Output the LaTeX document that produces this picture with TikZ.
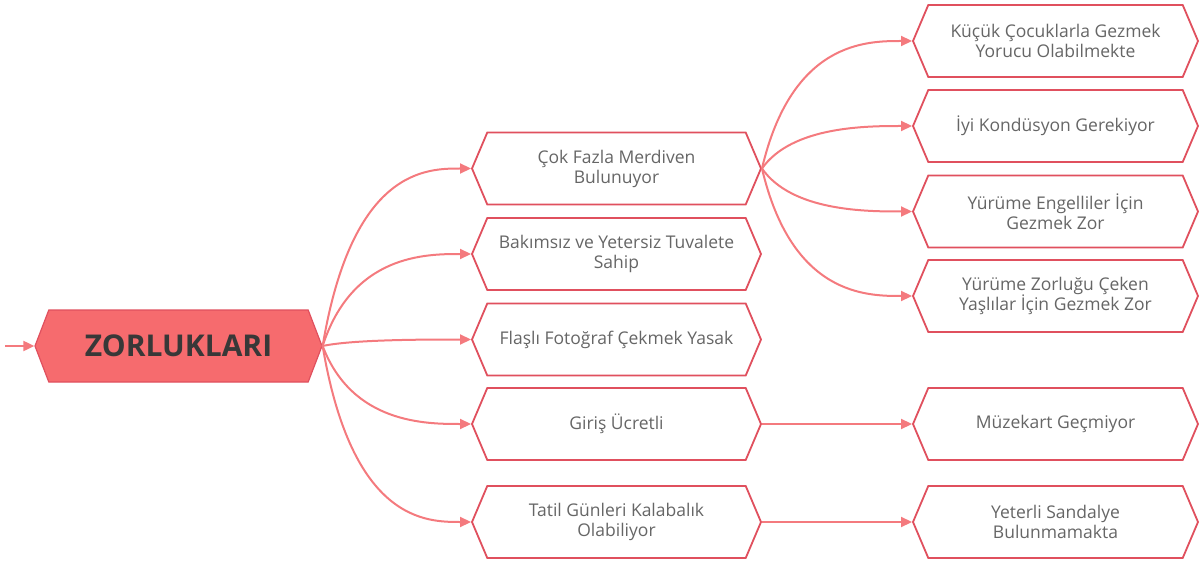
\documentclass[tikz,border=0pt]{standalone}
\usepackage{fontspec}
\setmainfont{Open Sans}
\usetikzlibrary{shapes.symbols,calc,arrows.meta}
\definecolor{linec}{HTML}{F47A7E}
\definecolor{borderc}{HTML}{E0505E}
\definecolor{rootfill}{HTML}{F66B6E}
\definecolor{txtc}{HTML}{666666}
\begin{document}
\begin{tikzpicture}[x=1pt,y=-1pt,
  hexbox/.style={signal, signal to=east and west, draw=borderc, line width=1.8pt,
    fill=white, text=txtc, font=\fontsize{17.5}{20}\selectfont, align=center,
    inner sep=0pt, minimum height=72pt},
  midbox/.style={hexbox, minimum width=289pt, signal pointer angle=134},
  rightbox/.style={hexbox, minimum width=285pt, signal pointer angle=134},
  rootbox/.style={signal, signal to=east and west, draw=borderc, line width=1.2pt,
    fill=rootfill, text=black!78, font=\bfseries\fontsize{30}{36}\selectfont,
    inner sep=0pt, minimum height=72pt, minimum width=287pt, signal pointer angle=138},
  conn/.style={draw=linec, line width=2pt, -{Triangle[length=11pt,width=10pt]}},
  curv/.style={to path={let \p1=(\tikztostart), \p2=(\tikztotarget) in
    .. controls ({\x1+0.2*(\x2-\x1)},\y2) and ({\x1+0.7*(\x2-\x1)},\y2) .. (\tikztotarget) \tikztonodes}}
]
\useasboundingbox (0,0) rectangle (1200,564);
\node[rootbox] (root) at (178.5,346) {ZORLUKLARI};
\coordinate (in) at (5,346);

\node[midbox] (m1) at (616.5,168.5) {Çok Fazla Merdiven\\Bulunuyor};
\node[midbox] (m2) at (616.5,254) {Bakımsız ve Yetersiz Tuvalete\\Sahip};
\node[midbox] (m3) at (616.5,339.5) {Flaşlı Fotoğraf Çekmek Yasak};
\node[midbox] (m4) at (616.5,424) {Giriş Ücretli};
\node[midbox] (m5) at (616.5,522) {Tatil Günleri Kalabalık\\Olabiliyor};

\node[rightbox] (r1) at (1055.5,41) {Küçük Çocuklarla Gezmek\\Yorucu Olabilmekte};
\node[rightbox] (r2) at (1055.5,126) {İyi Kondüsyon Gerekiyor};
\node[rightbox] (r3) at (1055.5,211.5) {Yürüme Engelliler İçin\\Gezmek Zor};
\node[rightbox] (r4) at (1055.5,296) {Yürüme Zorluğu Çeken\\Yaşlılar İçin Gezmek Zor};
\node[rightbox] (r5) at (1055.5,424) {Müzekart Geçmiyor};
\node[rightbox] (r6) at (1055.5,522) {Yeterli Sandalye\\Bulunmamakta};

\draw[conn] (in) -- (root.west);
\foreach \m in {m1,m2,m3,m4,m5}{
  \draw[conn] (root.east) to[curv] (\m.west);
}
\foreach \r in {r1,r2,r3,r4}{
  \draw[conn] (m1.east) to[curv] (\r.west);
}
\draw[conn] (m4.east) -- (r5.west);
\draw[conn] (m5.east) -- (r6.west);
\end{tikzpicture}
\end{document}
